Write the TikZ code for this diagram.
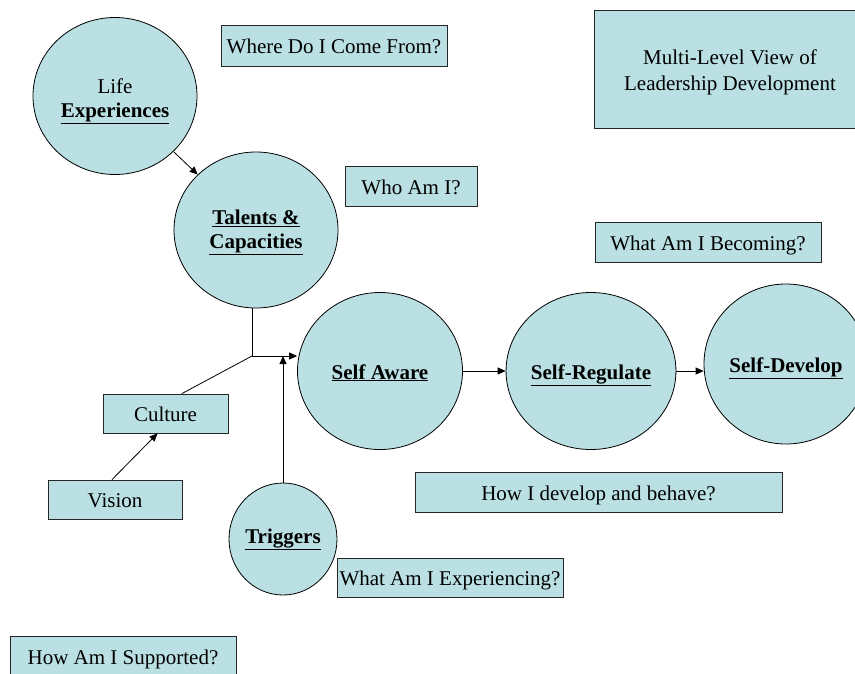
\documentclass[tikz,border=0pt]{standalone}
\usepackage{fontspec}
\setmainfont{Liberation Serif}
\usetikzlibrary{arrows.meta,calc,shapes.geometric}
\definecolor{fillc}{RGB}{186,224,227}
\newcommand{\bu}[1]{\textbf{\underline{#1}}}
\begin{document}
\begin{tikzpicture}[x=1pt,y=-1pt,
  every node/.style={font=\fontsize{21}{24}\selectfont, inner sep=0pt, align=center, text=black},
  one/.style={text height=16pt, text depth=0pt},
  circ/.style={ellipse, draw=black, fill=fillc, line width=0.8pt},
  boxn/.style={rectangle, draw=black!85, fill=fillc, line width=0.8pt, one},
  conn/.style={line width=0.8pt, draw=black},
  arr/.style={conn, -{Triangle[length=8pt,width=7pt]}}]
\useasboundingbox (0,0) rectangle (855,673);
\begin{scope}
\clip (0,0) rectangle (855,673);
% boxes
\node[boxn, minimum width=226pt, minimum height=41pt] (where) at (334,45.5) {Where Do I Come From?};
\node[boxn, minimum width=263pt, minimum height=118pt] (multi) at (725.5,69) {};
\node (multitext) at (730,72.5) [font=\fontsize{21}{26}\selectfont] {Multi-Level View of\\Leadership Development};
\node[boxn, minimum width=132pt, minimum height=40pt] (who) at (411,186) {Who Am I?};
\node[boxn, minimum width=226pt, minimum height=40pt] (becoming) at (708,242) {What Am I Becoming?};
\node[boxn, minimum width=125pt, minimum height=39pt] (culture) at (165.5,413.5) {Culture};
\node[boxn, minimum width=134pt, minimum height=39pt] (vision) at (115,499.5) {Vision};
\node[boxn, minimum width=367pt, minimum height=40pt] (howdev) at (598.5,492) {How I develop and behave?};
\node[boxn, minimum width=226pt, minimum height=39pt] (experiencing) at (450,577.5) {What Am I Experiencing?};
\node[boxn, minimum width=226pt, minimum height=40pt] (supported) at (123,656) {How Am I Supported?};
% circles
\node[circ, minimum width=164pt, minimum height=157pt] (life) at (115,96) {};
\node (lifetext) at (115,101.5) {Life\\\bu{Experiences}};
\node[circ, minimum width=164pt, minimum height=156pt] (talents) at (256,230) {};
\node (talentstext) at (256,232.5) {\bu{Talents \&}\\\bu{Capacities}};
\node[circ, one, minimum width=165pt, minimum height=157pt] (selfaware) at (380,371) {\bu{Self Aware}};
\node[circ, one, minimum width=163pt, minimum height=157pt] (selfreg) at (591,371) {\bu{Self-Regulate}};
\node[circ, one, minimum width=164pt, minimum height=160pt] (selfdev) at (786,364) {\bu{Self-Develop}};
\node[circ, text height=14pt, text depth=6pt, minimum width=108pt, minimum height=112pt] (triggers) at (283,539) {\bu{Triggers}};
% connectors
\coordinate (junc) at (252,356);
\draw[arr] (life) -- (talents);
\draw[conn] (talents.south -| junc) -- (junc);
\draw[arr] (junc) -- (junc -| selfaware.west);
\draw[conn] ($(culture.north west)!0.63!(culture.north east)$) -- (junc);
\draw[arr] ([xshift=-3pt]vision.north) -- ([xshift=-8pt]culture.south);
\draw[arr] (triggers.north) -- (triggers.north |- junc);
\draw[arr] (selfaware.east) -- (selfreg.west);
\draw[arr] (selfreg.east) -- (selfreg.east -| selfdev.west);
\end{scope}
\end{tikzpicture}
\end{document}
